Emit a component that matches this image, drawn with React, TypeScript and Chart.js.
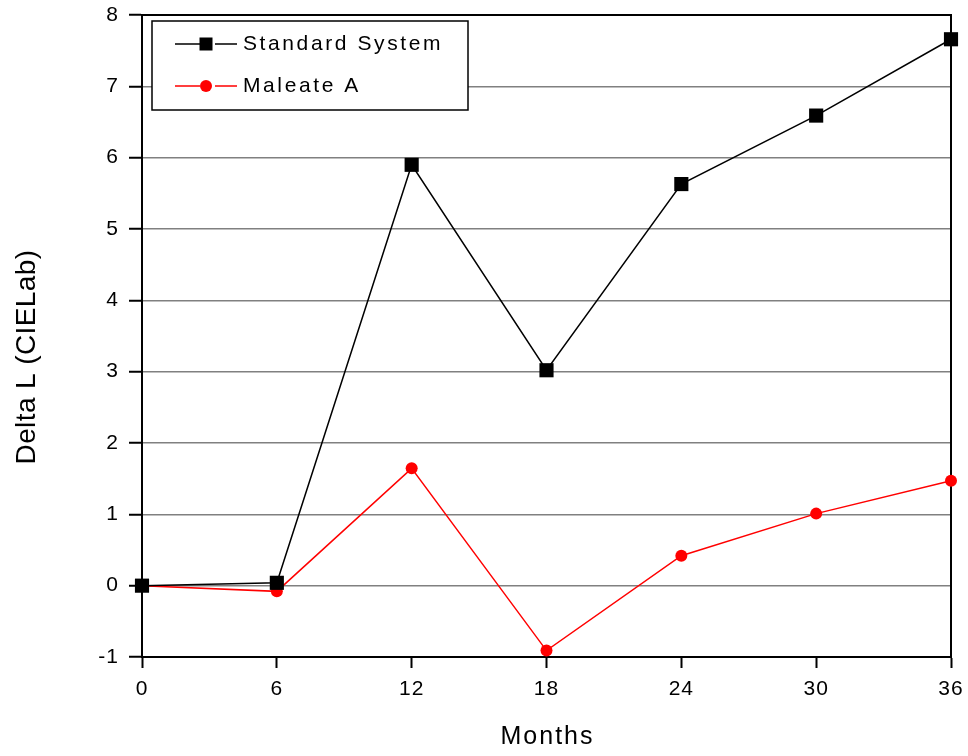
import React, { useEffect, useRef } from "react";
import { Chart, registerables } from "chart.js";

Chart.register(...registerables);

const months = [0, 6, 12, 18, 24, 30, 36];
const standardSystem = [0, 0.04, 5.9, 3.02, 5.63, 6.59, 7.66];
const maleateA = [0, -0.08, 1.645, -0.91, 0.42, 1.01, 1.47];
const seriesNames = ["Standard System", "Maleate A"];
const xTitle = "Months";
const yTitle = "Delta L (CIELab)";

const FONT = "Arial, 'Liberation Sans', Helvetica, sans-serif";

const spacingPlugin = {
  id: "spacing",
  beforeLayout(chart: any) {
    (chart.ctx as any).letterSpacing = "1px";
  },
  beforeDraw(chart: any) {
    (chart.ctx as any).letterSpacing = "1px";
  },
};

const framePlugin = {
  id: "frame",
  beforeDatasetsDraw(chart: any) {
    const { ctx, chartArea } = chart;
    ctx.save();
    ctx.strokeStyle = "#000";
    ctx.lineWidth = 2;
    ctx.strokeRect(chartArea.left, chartArea.top, chartArea.right - chartArea.left, chartArea.bottom - chartArea.top);
    ctx.restore();
  },
};

const titlesPlugin = {
  id: "axisTitles",
  afterDraw(chart: any) {
    const { ctx, chartArea } = chart;
    ctx.save();
    ctx.fillStyle = "#000";
    ctx.textAlign = "center";
    ctx.textBaseline = "middle";
    // x title
    ctx.font = `25px ${FONT}`;
    (ctx as any).letterSpacing = "2px";
    ctx.fillText(xTitle, (chartArea.left + chartArea.right) / 2 + 1, 737);
    // y title
    ctx.font = `28px ${FONT}`;
    (ctx as any).letterSpacing = "0.4px";
    ctx.translate(27, 357);
    ctx.rotate(-Math.PI / 2);
    ctx.fillText(yTitle, 0, 0);
    ctx.restore();
  },
};

const legendPlugin = {
  id: "customLegend",
  afterDatasetsDraw(chart: any) {
    const { ctx, chartArea } = chart;
    const x0 = chartArea.left + 10;
    const y0 = chartArea.top + 6;
    const w = 316;
    const h = 89;
    ctx.save();
    ctx.fillStyle = "#fff";
    ctx.fillRect(x0, y0, w, h);
    ctx.strokeStyle = "#000";
    ctx.lineWidth = 1.5;
    ctx.strokeRect(x0, y0, w, h);
    chart.data.datasets.forEach((ds: any, i: number) => {
      const cy = y0 + 23 + i * 42;
      const lx1 = x0 + 23;
      const lx2 = x0 + 85;
      const mx = x0 + 54;
      ctx.strokeStyle = ds.borderColor;
      ctx.lineWidth = 1.5;
      ctx.beginPath();
      ctx.moveTo(lx1, cy);
      ctx.lineTo(mx - 6, cy);
      ctx.moveTo(mx + 9, cy);
      ctx.lineTo(lx2, cy);
      ctx.stroke();
      ctx.fillStyle = ds.pointBackgroundColor;
      if (ds.pointStyle === "rect") {
        ctx.fillRect(mx - 6.5, cy - 6.5, 13, 13);
      } else {
        ctx.beginPath();
        ctx.arc(mx, cy, 6, 0, Math.PI * 2);
        ctx.fill();
      }
      ctx.fillStyle = "#000";
      ctx.font = `21px ${FONT}`;
      (ctx as any).letterSpacing = "2.6px";
      ctx.textBaseline = "middle";
      ctx.textAlign = "left";
      ctx.fillText(ds.label, x0 + 91, cy);
    });
    ctx.restore();
  },
};

export default function App() {
  const ref = useRef<HTMLCanvasElement>(null);
  useEffect(() => {
    const canvas = ref.current!;
    const chart = new Chart(canvas, {
      type: "line",
      data: {
        datasets: [
          {
            label: seriesNames[0],
            data: months.map((m, i) => ({ x: m, y: standardSystem[i] })),
            borderColor: "#000",
            backgroundColor: "#000",
            pointBackgroundColor: "#000",
            pointBorderColor: "#000",
            pointStyle: "rect",
            pointRadius: 10,
            pointBorderWidth: 0,
            borderWidth: 1.5,
            clip: false as any,
          },
          {
            label: seriesNames[1],
            data: months.map((m, i) => ({ x: m, y: maleateA[i] })),
            borderColor: "#ff0000",
            backgroundColor: "#ff0000",
            pointBackgroundColor: "#ff0000",
            pointBorderColor: "#ff0000",
            pointStyle: "circle",
            pointRadius: 6,
            pointBorderWidth: 0,
            borderWidth: 1.5,
            clip: false as any,
          },
        ],
      },
      options: {
        responsive: false,
        animation: false,
        layout: { padding: { left: 0, right: 17, top: 15, bottom: 0 } },
        plugins: {
          legend: { display: false },
          tooltip: { enabled: false },
        },
        scales: {
          x: {
            type: "linear",
            min: 0,
            max: 36,
            ticks: {
              stepSize: 6,
              color: "#000",
              font: { family: FONT, size: 21 },
              padding: 9,
              maxRotation: 0,
            },
            grid: {
              drawOnChartArea: false,
              drawTicks: true,
              tickLength: 11,
              tickColor: "#000",
              tickWidth: 2,
            },
            border: { display: true, color: "#000", width: 2 },
            title: { display: false, text: xTitle },
            afterFit: (s: any) => {
              s.height = 99;
              s.paddingLeft = 0;
              s.paddingRight = 0;
            },
          },
          y: {
            type: "linear",
            min: -1,
            max: 8,
            ticks: {
              stepSize: 1,
              color: "#000",
              font: { family: FONT, size: 21 },
              padding: 10,
            },
            grid: {
              color: "#808080",
              lineWidth: 1.5,
              drawTicks: true,
              tickLength: 13,
              tickColor: "#000",
              tickWidth: 2,
            },
            border: { display: true, color: "#000", width: 2 },
            title: { display: false, text: yTitle },
            afterFit: (s: any) => {
              s.width = 142;
              s.paddingTop = 0;
              s.paddingBottom = 0;
            },
          },
        },
      },
      plugins: [spacingPlugin, framePlugin, legendPlugin, titlesPlugin],
    });
    return () => chart.destroy();
  }, []);
  return (
    <div style={{ position: "fixed", left: 0, top: 0, width: 968, height: 756, background: "#fff" }}>
      <canvas ref={ref} width={968} height={756} style={{ width: 968, height: 756 }} />
    </div>
  );
}
